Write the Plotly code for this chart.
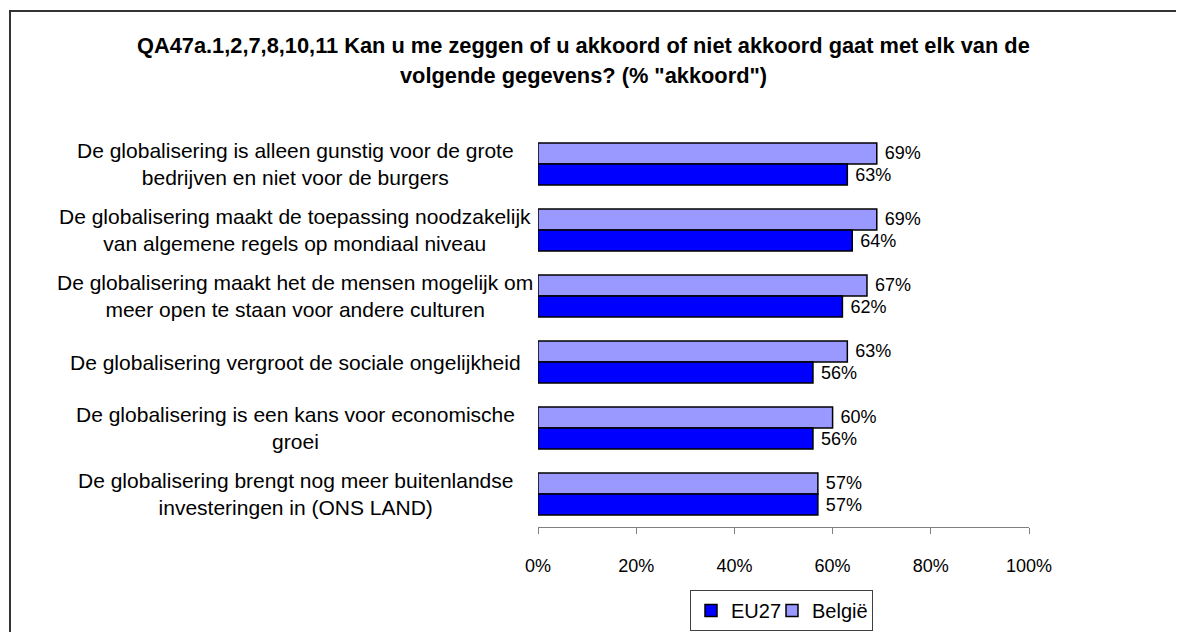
import plotly.graph_objects as go

categories = [
    "De globalisering is alleen gunstig voor de grote<br>bedrijven en niet voor de burgers",
    "De globalisering maakt de toepassing noodzakelijk<br>van algemene regels op mondiaal niveau",
    "De globalisering maakt het de mensen mogelijk om<br>meer open te staan voor andere culturen",
    "De globalisering vergroot de sociale ongelijkheid",
    "De globalisering is een kans voor economische<br>groei",
    "De globalisering brengt nog meer buitenlandse<br>investeringen in (ONS LAND)",
]
cat_ids = ["c1", "c2", "c3", "c4", "c5", "c6"]
belgie = [69, 69, 67, 63, 60, 57]
eu27 = [63, 64, 62, 56, 56, 57]
tick_vals = [0, 20, 40, 60, 80, 100]
tick_text = ["0%", "20%", "40%", "60%", "80%", "100%"]
title_lines = [
    "QA47a.1,2,7,8,10,11 Kan u me zeggen of u akkoord of niet akkoord gaat met elk van de",
    'volgende gegevens? (% "akkoord")',
]

FONT = "Liberation Sans, Arial, sans-serif"
OFF = 8  # page body margin
W, H = 1184 - OFF, 632 - OFF
# plot area in screen pixels: x 538..1029, y 132..527
ML, MR = 538 - OFF, W - (1029 - OFF)
MT, MB = 131 - OFF, H - (527 - OFF)
PW, PH = W - ML - MR, H - MT - MB

def px_x(p):  # screen px -> paper x
    return (p - OFF - ML) / PW

def px_y(p):  # screen px -> paper y
    return (H - MB - (p - OFF)) / PH

def cx(p):  # screen px -> container x
    return (p - OFF) / W

def cy(p):  # screen px -> container y
    return 1 - (p - OFF) / H

fig = go.Figure()
fig.add_trace(go.Bar(
    y=cat_ids, x=belgie, name="België", orientation="h",
    marker=dict(color="#9999FF", line=dict(color="#000000", width=1.5)),
    text=[f" {v}%" for v in belgie], textposition="outside",
    textfont=dict(family=FONT, size=18, color="#000000"), cliponaxis=False,
    legendrank=2, legendwidth=55,
))
fig.add_trace(go.Bar(
    y=cat_ids, x=eu27, name="EU27", orientation="h",
    marker=dict(color="#0000FF", line=dict(color="#000000", width=1.5)),
    text=[f" {v}%" for v in eu27], textposition="outside",
    textfont=dict(family=FONT, size=18, color="#000000"), cliponaxis=False,
    legendrank=1, legendwidth=36,
))

for cid, lab in zip(cat_ids, categories):
    fig.add_annotation(
        x=px_x(295), xref="paper", y=cid, yref="y", text=lab,
        showarrow=False, xanchor="center", yanchor="middle", align="center",
        font=dict(family=FONT, size=21, color="#000000"),
    )

for i, line in enumerate(title_lines):
    fig.add_annotation(
        x=px_x(583), xref="paper", y=px_y(45 + 30 * i), yref="paper",
        text=f"<b>{line}</b>", showarrow=False, xanchor="center", yanchor="middle",
        font=dict(family=FONT, size=21.8, color="#000000"),
    )

fig.add_shape(type="rect", xref="paper", yref="paper",
              x0=px_x(10), x1=px_x(1300), y0=px_y(700), y1=px_y(11),
              line=dict(color="#333333", width=2), fillcolor="rgba(0,0,0,0)", layer="below")

fig.update_layout(
    width=W, height=H,
    margin=dict(l=ML, r=MR, t=MT, b=MB, autoexpand=False),
    paper_bgcolor="white", plot_bgcolor="white",
    barmode="group", bargap=0.36, bargroupgap=0,
    font=dict(family=FONT, size=18, color="#000000"),
    showlegend=True,
    legend=dict(orientation="h", xref="container", yref="container",
                x=cx(690), xanchor="left", y=cy(590), yanchor="top",
                bordercolor="#404040", borderwidth=1, bgcolor="white",
                font=dict(family=FONT, size=20, color="#000000"),
                itemwidth=30, tracegroupgap=0),
    xaxis=dict(range=[0, 100], tickvals=tick_vals, ticktext=tick_text,
               showgrid=False, zeroline=False, showline=True, linecolor="#808080",
               linewidth=1, ticks="outside", ticklen=6, tickcolor="#808080",
               ticklabelstandoff=16, automargin=False,
               tickfont=dict(family=FONT, size=18, color="#000000"), fixedrange=True),
    yaxis=dict(categoryorder="array", categoryarray=cat_ids, autorange="reversed",
               showticklabels=False, showgrid=False, zeroline=False, showline=False,
               ticks="", fixedrange=True, automargin=False),
)

fig.write_html("out.html")
